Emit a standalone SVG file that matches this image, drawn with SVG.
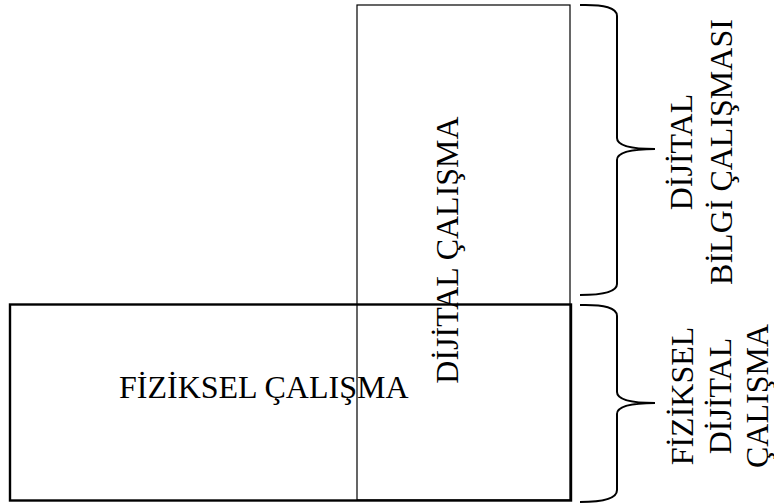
<svg xmlns="http://www.w3.org/2000/svg" width="774" height="504" viewBox="0 0 774 504">
  <style>
    .lbl { font-family: "Liberation Serif", "Times New Roman", serif; font-size: 32px; fill: #000; }
    .box { fill: none; stroke: #000; }
    .brace { fill: none; stroke: #000; stroke-width: 2; }
  </style>
  <rect x="0" y="0" width="774" height="504" fill="#fff"/>

  <g id="digital-work">
    <rect class="box" x="357" y="5" width="213" height="495" stroke-width="1.2"/>
  </g>

  <g id="physical-work">
    <rect class="box" x="10" y="304.5" width="561" height="196" stroke-width="2.4"/>
    <text class="lbl" x="119" y="398">FİZİKSEL ÇALIŞMA</text>
  </g>

  <g id="digital-work-label">
    <text class="lbl" text-anchor="middle" transform="translate(458,250) rotate(-90)">DİJİTAL ÇALIŞMA</text>
  </g>

  <g id="connectors">
    <path class="brace" d="M580,5 Q617,4 617,16 L617,138 Q617,149 655,149 Q617,149 617,160 L617,284 Q617,295 580,295"/>
    <path class="brace" d="M580,305 Q617,304 617,316 L617,392 Q617,403 655,403 Q617,403 617,414 L617,490 Q617,502 580,502"/>
  </g>

  <g id="digital-info-work">
    <text class="lbl" text-anchor="middle" transform="translate(692,152) rotate(-90)">DİJİTAL</text>
    <text class="lbl" text-anchor="middle" transform="translate(732,152) rotate(-90)">BİLGİ ÇALIŞMASI</text>
  </g>

  <g id="physical-digital-work">
    <text class="lbl" text-anchor="middle" transform="translate(693,396) rotate(-90)">FİZİKSEL</text>
    <text class="lbl" text-anchor="middle" transform="translate(731,396) rotate(-90)">DİJİTAL</text>
    <text class="lbl" text-anchor="middle" transform="translate(768,396) rotate(-90)">ÇALIŞMA</text>
  </g>
</svg>
